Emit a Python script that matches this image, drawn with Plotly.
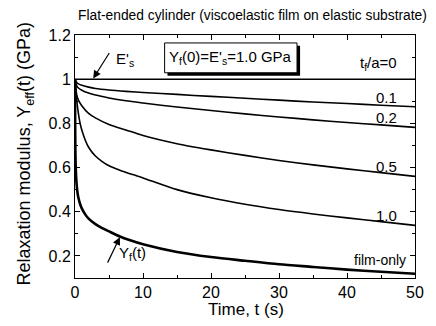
import plotly.graph_objects as go

# ---- data ----
t_common = [0, 0.25, 0.5, 1, 2, 3, 5, 7.5, 10, 15, 20, 25, 30, 35, 40, 45, 50]
y_tf0 = [1.0] * len(t_common)
y_tf01 = [1.0, 0.985, 0.979, 0.972, 0.964, 0.958, 0.951, 0.945, 0.94, 0.931, 0.922, 0.914, 0.905, 0.897, 0.89, 0.882, 0.875]
y_tf02 = [1.0, 0.97, 0.96, 0.95, 0.937, 0.928, 0.915, 0.902, 0.892, 0.874, 0.858, 0.843, 0.829, 0.816, 0.804, 0.793, 0.782]
y_tf05 = [1.0, 0.93, 0.905, 0.88, 0.845, 0.825, 0.795, 0.77, 0.745, 0.708, 0.68, 0.655, 0.632, 0.612, 0.594, 0.577, 0.56]

t_tf10 = [0, 0.1, 0.25, 0.5, 0.75, 1, 1.5, 2, 3, 4, 5, 6.6, 8.5, 10, 15, 20, 25, 30, 35, 40, 45, 50]
y_tf10 = [1.0, 0.955, 0.905, 0.845, 0.8, 0.77, 0.725, 0.692, 0.652, 0.627, 0.608, 0.588, 0.568, 0.553, 0.50, 0.463, 0.434, 0.41, 0.39, 0.372, 0.355, 0.338]

t_film = [0, 0.02, 0.05, 0.1, 0.2, 0.35, 0.5, 0.75, 1, 1.5, 2, 3, 4, 5, 6.6, 8, 10, 15, 20, 25, 30, 35, 40, 45, 50]
y_film = [1.0, 0.82, 0.69, 0.61, 0.54, 0.49, 0.463, 0.435, 0.415, 0.388, 0.369, 0.344, 0.326, 0.311, 0.288, 0.272, 0.253, 0.218, 0.195, 0.178, 0.162, 0.150, 0.138, 0.128, 0.119]

curve_labels = ["0.1", "0.2", "0.5", "1.0"]
label_y = [0.916, 0.826, 0.605, 0.385]

FONT = "Liberation Sans, Arial, sans-serif"

fig = go.Figure()
for y in [y_tf0, y_tf01, y_tf02, y_tf05]:
    fig.add_trace(go.Scatter(x=t_common, y=y, mode="lines",
                             line=dict(color="black", width=1.6, shape="spline", smoothing=0.8),
                             hoverinfo="skip"))
fig.add_trace(go.Scatter(x=t_tf10, y=y_tf10, mode="lines",
                         line=dict(color="black", width=1.6, shape="spline", smoothing=0.8),
                         hoverinfo="skip"))
fig.add_trace(go.Scatter(x=t_film, y=y_film, mode="lines",
                         line=dict(color="black", width=2.6, shape="spline", smoothing=0.8),
                         hoverinfo="skip"))

ann = []
for lab, yy in zip(curve_labels, label_y):
    ann.append(dict(x=47.6, y=yy, xref="x", yref="y", text=lab, showarrow=False,
                    xanchor="right", yanchor="middle", font=dict(size=15)))
ann.append(dict(x=47.6, y=1.069, xref="x", yref="y", text="t<sub>f</sub>/a=0",
                showarrow=False, xanchor="right", yanchor="middle", font=dict(size=15)))
ann.append(dict(x=48.9, y=0.182, xref="x", yref="y", text="film-only",
                showarrow=False, xanchor="right", yanchor="middle", font=dict(size=14)))
# box label
ann.append(dict(x=22.9, y=1.10, xref="x", yref="y", text="Y<sub>f</sub>(0)=E'<sub>s</sub>=1.0 GPa",
                showarrow=False, xanchor="center", yanchor="middle", font=dict(size=15)))
# E's arrow
ann.append(dict(x=2.68, y=1.003, xref="x", yref="y", ax=17, ay=-27, text="",
                showarrow=True, arrowhead=2, arrowsize=1.3, arrowwidth=1.2, arrowcolor="black"))
ann.append(dict(x=5.8, y=1.09, xref="x", yref="y", text="E'<sub>s</sub>",
                showarrow=False, xanchor="left", yanchor="middle", font=dict(size=15)))
# Yf(t) arrow
ann.append(dict(x=6.6, y=0.285, xref="x", yref="y", ax=-13, ay=27, text="",
                showarrow=True, arrowhead=2, arrowsize=1.3, arrowwidth=1.2, arrowcolor="black"))
ann.append(dict(x=6.2, y=0.21, xref="x", yref="y", text="Y<sub>f</sub>(t)",
                showarrow=False, xanchor="left", yanchor="middle", font=dict(size=15)))
# axis titles
ann.append(dict(x=0.503, y=-0.128, xref="paper", yref="paper", text="Time, t (s)",
                showarrow=False, xanchor="center", yanchor="middle", font=dict(size=17)))
ann.append(dict(x=-0.146, y=0.514, xref="paper", yref="paper", text="Relaxation modulus, Y<sub>eff</sub>(t) (GPa)",
                showarrow=False, xanchor="center", yanchor="middle", textangle=-90, font=dict(size=18)))

shapes = [
    dict(type="rect", xref="x", yref="y", x0=13.6, x1=33.1, y0=1.016, y1=1.151,
         fillcolor="black", line=dict(width=0), layer="above"),
    dict(type="rect", xref="x", yref="y", x0=13.18, x1=32.65, y0=1.029, y1=1.164,
         fillcolor="white", line=dict(color="black", width=1), layer="above"),
]

fig.update_layout(
    width=436, height=326,
    margin=dict(l=75, r=21, t=35, b=48),
    paper_bgcolor="white", plot_bgcolor="white",
    showlegend=False,
    font=dict(family=FONT, size=16, color="black"),
    title=dict(text="Flat-ended cylinder (viscoelastic film on elastic substrate)",
               x=78 / 436, xanchor="left", xref="container",
               y=1 - 15 / 326, yanchor="middle", yref="container",
               font=dict(size=13.8)),
    annotations=ann, shapes=shapes,
)
axis_common = dict(showline=True, linecolor="black", linewidth=1, mirror="ticks",
                   ticks="inside", ticklen=5, tickcolor="black", showgrid=False,
                   zeroline=False, tickfont=dict(size=16))
fig.update_xaxes(range=[0, 50], dtick=10, tick0=0,
                 minor=dict(dtick=5, ticks="inside", ticklen=3, tickcolor="black", showgrid=False),
                 **axis_common)
fig.update_yaxes(range=[0.1, 1.2], dtick=0.2, tick0=0,
                 minor=dict(dtick=0.1, ticks="inside", ticklen=3, tickcolor="black", showgrid=False),
                 **axis_common)

fig.write_html("out.html")
